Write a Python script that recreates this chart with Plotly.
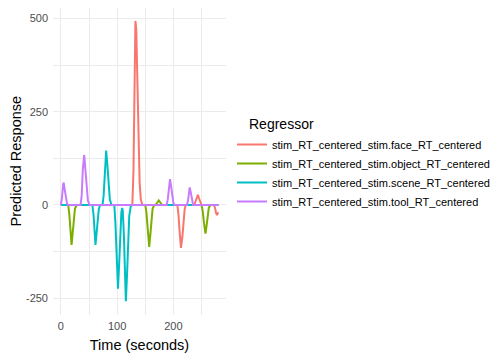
import plotly.graph_objects as go

series_names = [
    "stim_RT_centered_stim.face_RT_centered",
    "stim_RT_centered_stim.object_RT_centered",
    "stim_RT_centered_stim.scene_RT_centered",
    "stim_RT_centered_stim.tool_RT_centered",
]
colors = ["#F8766D", "#7CAE00", "#00BFC4", "#C77CFF"]

face_t = [0, 127, 129, 131, 132.5, 134, 136, 138, 140, 142, 145,
          207, 209, 211.5, 213.5, 216, 218, 220, 222,
          237, 239, 241.5, 243.5, 245.5, 247.5, 250,
          272, 274, 276, 277.5, 279, 280]
face_v = [0, 0, 90, 380, 493, 470, 320, 160, 60, 15, 0,
          0, -25, -80, -115, -85, -40, -12, 0,
          0, 8, 22, 27, 18, 7, 0,
          0, -8, -22, -27, -22, -20]

object_t = [0, 13, 15, 17, 19, 21, 23, 25, 28,
            150, 152, 154.5, 157, 159, 161, 163, 166, 168, 171, 174, 177, 180,
            250, 252, 254.5, 257, 259, 261, 263, 266, 280]
object_v = [0, 0, -25, -80, -107, -75, -35, -10, 0,
            0, -20, -75, -112, -80, -35, -10, 0, 0, 6, 12, 6, 0,
            0, -15, -50, -77, -55, -25, -7, 0, 0]

scene_t = [0, 56, 58, 60, 61.5, 63.5, 65.5, 67.5, 70,
           74, 76, 78.5, 80.5, 83, 85, 87, 90,
           95, 97, 99.5, 101.5, 103.5, 105.5, 107.5, 109,
           110, 112, 114, 115.5, 117.5, 119.5, 121.5, 124, 126, 280]
scene_v = [0, 0, -25, -85, -107, -75, -35, -10, 0,
           0, 25, 105, 146, 100, 45, 15, 0,
           0, -50, -170, -224, -160, -70, -20, -8,
           -15, -80, -210, -258, -190, -90, -30, -5, 0, 0]

tool_t = [0, 2, 4, 5, 7, 9, 11, 13,
          35, 37, 39, 41.5, 44, 46, 48, 51,
          188, 190, 192, 194, 196, 198, 200, 202,
          224, 226, 227.5, 229, 231, 233, 235, 280]
tool_v = [0, 20, 55, 60, 40, 15, 3, 0,
          0, 25, 95, 134, 90, 40, 12, 0,
          0, 15, 45, 69, 50, 20, 5, 0,
          0, 12, 35, 47, 33, 12, 0, 0]

x_ticks = [0, 100, 200]
y_ticks = [-250, 0, 250, 500]
legend_title = "Regressor"
x_title = "Time (seconds)"
y_title = "Predicted Response"

data = [(face_t, face_v), (object_t, object_v), (scene_t, scene_v), (tool_t, tool_v)]

fig = go.Figure()
for name, col, (t, v) in zip(series_names, colors, data):
    fig.add_trace(go.Scatter(x=t, y=v, mode="lines", name=name,
                             line=dict(color=col, width=2)))

font_family = "Liberation Sans, Arial, sans-serif"
grid = "#ebebeb"

# page has an 8px body margin, so the figure is 496x352 offset by (8, 8)
W, H = 496, 352
L, R, T, B = 45, 278, 0, 45
pw, ph = W - L - R, H - T - B

fig.update_layout(
    width=W, height=H,
    margin=dict(l=L, r=R, t=T, b=B, autoexpand=False),
    paper_bgcolor="white", plot_bgcolor="white",
    font=dict(family=font_family, color="#000000"),
    xaxis=dict(
        range=[-14, 293.5], tickvals=x_ticks, ticktext=[str(v) for v in x_ticks],
        showgrid=True, gridcolor=grid, gridwidth=1.1, zeroline=False,
        minor=dict(tickvals=[50, 150, 250], showgrid=True, gridcolor=grid, gridwidth=0.55),
        tickfont=dict(size=11, color="#4d4d4d"), ticks="", ticklabelstandoff=3,
        title=dict(text=x_title, font=dict(size=14.5, color="#000000"), standoff=8),
        showline=False, automargin=True,
    ),
    yaxis=dict(
        range=[-294.7, 527.7], tickvals=y_ticks, ticktext=[str(v) for v in y_ticks],
        showgrid=True, gridcolor=grid, gridwidth=1.1, zeroline=False,
        minor=dict(tickvals=[-125, 125, 375], showgrid=True, gridcolor=grid, gridwidth=0.55),
        tickfont=dict(size=11, color="#4d4d4d"), ticks="", ticklabelstandoff=4,
        showline=False, automargin=False,
    ),
    legend=dict(
        font=dict(size=11, color="#000000"),
        xref="container", yref="container",
        x=224 / W, xanchor="left", y=1 - 165 / H, yanchor="middle",
        bgcolor="rgba(0,0,0,0)", itemwidth=30, tracegroupgap=0,
    ),
    annotations=[
        dict(
            text=legend_title, xref="paper", yref="paper", showarrow=False,
            x=(239 - L) / pw, y=1 - (116 - T) / ph,
            xanchor="left", yanchor="middle", font=dict(size=14, color="#000000"),
        ),
        dict(
            text=y_title, xref="paper", yref="paper", showarrow=False,
            x=(7 - L) / pw, y=0.5, textangle=-90,
            xanchor="center", yanchor="middle", font=dict(size=14.5, color="#000000"),
        ),
    ],
    showlegend=True,
)

fig.write_html("out.html")
